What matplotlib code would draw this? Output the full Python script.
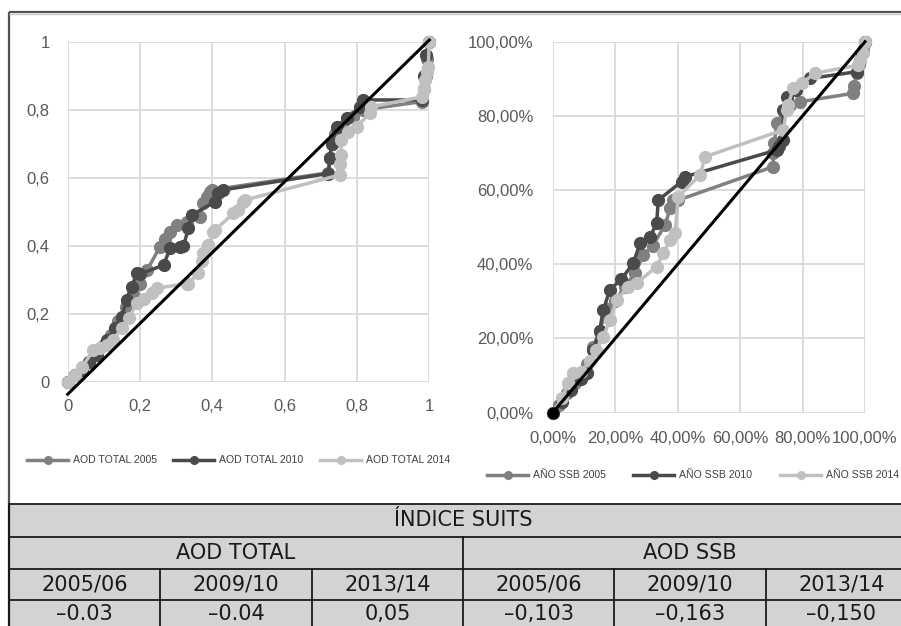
import matplotlib
matplotlib.use("Agg")
import matplotlib.pyplot as plt
from matplotlib.lines import Line2D
from matplotlib.patches import Rectangle

# ---------------- data ----------------
left_2005_x = [0, 0.02, 0.04, 0.06, 0.08, 0.10, 0.12, 0.14, 0.16, 0.18, 0.20, 0.22, 0.255, 0.27, 0.283, 0.301, 0.33, 0.366, 0.375, 0.385, 0.394, 0.40, 0.72, 0.725, 0.73, 0.74, 0.76, 0.79, 0.817, 0.979, 0.985, 0.99, 0.995, 1.0]
left_2005_y = [0, 0.02, 0.04, 0.06, 0.08, 0.11, 0.14, 0.18, 0.22, 0.26, 0.29, 0.33, 0.398, 0.42, 0.442, 0.462, 0.47, 0.486, 0.525, 0.545, 0.56, 0.565, 0.615, 0.66, 0.70, 0.73, 0.75, 0.78, 0.80, 0.824, 0.86, 0.90, 0.95, 1.0]

left_2010_x = [0, 0.02, 0.04, 0.06, 0.08, 0.108, 0.131, 0.149, 0.163, 0.177, 0.191, 0.20, 0.265, 0.283, 0.311, 0.32, 0.334, 0.343, 0.407, 0.417, 0.43, 0.721, 0.725, 0.73, 0.744, 0.772, 0.808, 0.817, 0.979, 0.985, 0.99, 1.0]
left_2010_y = [0, 0.02, 0.035, 0.06, 0.08, 0.124, 0.159, 0.193, 0.242, 0.281, 0.32, 0.318, 0.344, 0.393, 0.398, 0.40, 0.452, 0.491, 0.53, 0.555, 0.565, 0.613, 0.66, 0.70, 0.75, 0.775, 0.809, 0.829, 0.829, 0.90, 0.96, 1.0]

left_2014_x = [0, 0.02, 0.04, 0.071, 0.09, 0.11, 0.126, 0.15, 0.17, 0.191, 0.21, 0.232, 0.246, 0.329, 0.334, 0.361, 0.371, 0.375, 0.389, 0.403, 0.408, 0.458, 0.472, 0.486, 0.49, 0.753, 0.753, 0.755, 0.757, 0.776, 0.799, 0.836, 0.84, 0.979, 0.985, 0.988, 0.993, 0.997, 1.0]
left_2014_y = [0, 0.02, 0.045, 0.095, 0.10, 0.11, 0.124, 0.16, 0.19, 0.232, 0.245, 0.261, 0.276, 0.29, 0.29, 0.32, 0.355, 0.379, 0.403, 0.44, 0.447, 0.496, 0.506, 0.53, 0.535, 0.609, 0.64, 0.667, 0.711, 0.736, 0.75, 0.79, 0.809, 0.838, 0.86, 0.887, 0.91, 0.927, 1.0]

left_diag_x = [0, 1]
left_diag_y = [-0.035, 1.005]

right_2005_x = [0, 0.02, 0.045, 0.07, 0.09, 0.11, 0.13, 0.15, 0.173, 0.20, 0.23, 0.264, 0.29, 0.32, 0.36, 0.376, 0.386, 0.402, 0.706, 0.706, 0.71, 0.717, 0.744, 0.76, 0.792, 0.963, 0.965, 0.973, 0.985, 0.994, 1.0]
right_2005_y = [0, 0.02, 0.052, 0.08, 0.10, 0.13, 0.178, 0.22, 0.28, 0.30, 0.34, 0.376, 0.425, 0.45, 0.506, 0.551, 0.573, 0.573, 0.663, 0.70, 0.726, 0.78, 0.816, 0.83, 0.838, 0.861, 0.88, 0.915, 0.95, 0.978, 1.0]

right_2010_x = [0, 0.03, 0.06, 0.09, 0.109, 0.13, 0.15, 0.162, 0.183, 0.22, 0.258, 0.28, 0.312, 0.333, 0.338, 0.413, 0.424, 0.717, 0.725, 0.738, 0.738, 0.749, 0.78, 0.824, 0.973, 0.98, 0.99, 1.0]
right_2010_y = [0, 0.03, 0.06, 0.09, 0.106, 0.169, 0.22, 0.277, 0.331, 0.36, 0.403, 0.457, 0.474, 0.511, 0.573, 0.623, 0.636, 0.708, 0.72, 0.735, 0.816, 0.852, 0.87, 0.901, 0.919, 0.94, 0.97, 1.0]

right_2014_x = [0, 0.03, 0.05, 0.066, 0.09, 0.12, 0.14, 0.162, 0.183, 0.205, 0.242, 0.27, 0.333, 0.354, 0.376, 0.392, 0.402, 0.472, 0.488, 0.738, 0.749, 0.754, 0.77, 0.797, 0.84, 0.979, 0.985, 0.994, 1.0]
right_2014_y = [0, 0.04, 0.08, 0.106, 0.11, 0.14, 0.17, 0.205, 0.25, 0.304, 0.34, 0.35, 0.394, 0.43, 0.466, 0.484, 0.582, 0.641, 0.69, 0.762, 0.816, 0.829, 0.874, 0.888, 0.915, 0.937, 0.95, 0.969, 1.0]

right_diag_x = [0, 1]
right_diag_y = [0, 1]

left_ticks = [0, 0.2, 0.4, 0.6, 0.8, 1]
left_ticklabels = ["0", "0,2", "0,4", "0,6", "0,8", "1"]
right_ticks = [0, 0.2, 0.4, 0.6, 0.8, 1]
right_ticklabels = ["0,00%", "20,00%", "40,00%", "60,00%", "80,00%", "100,00%"]

left_series_names = ["AOD TOTAL 2005", "AOD TOTAL 2010", "AOD TOTAL 2014"]
right_series_names = ["AÑO SSB 2005", "AÑO SSB 2010", "AÑO SSB 2014"]

table_title = "ÍNDICE SUITS"
table_groups = ["AOD TOTAL", "AOD SSB"]
table_periods = ["2005/06", "2009/10", "2013/14", "2005/06", "2009/10", "2013/14"]
table_values = ["–0.03", "–0.04", "0,05", "–0,103", "–0,163", "–0,150"]

# ---------------- style ----------------
W, H = 901, 626
colors = ["#808080", "#4a4a4a", "#c0c0c0"]
tick_color = "#595959"
grid_color = "#d9d9d9"
tick_font = "Liberation Sans"

fig = plt.figure(figsize=(W / 100, H / 100), dpi=100)
fig.patch.set_facecolor("white")

def fx(px):
    return px / W

def fy(py):
    return 1 - py / H

def style_axes(ax, ticks, labels, xpad, ypad):
    ax.set_xlim(0, 1)
    ax.set_ylim(0, 1)
    ax.set_xticks(ticks)
    ax.set_yticks(ticks)
    ax.set_xticklabels(labels)
    ax.set_yticklabels(labels)
    ax.grid(True, color=grid_color, linewidth=1.3)
    ax.set_axisbelow(True)
    for s in ax.spines.values():
        s.set_visible(False)
    ax.tick_params(length=0, labelsize=12, labelcolor=tick_color)
    ax.tick_params(axis="x", pad=xpad)
    ax.tick_params(axis="y", pad=ypad)
    for t in ax.get_xticklabels() + ax.get_yticklabels():
        t.set_fontfamily(tick_font)

# Left chart
axL = fig.add_axes([fx(67.7), fy(382.3), (429.3 - 67.7) / W, (382.3 - 41.7) / H])
style_axes(axL, left_ticks, left_ticklabels, 12, 13)
for xs, ys, c in [(left_2005_x, left_2005_y, colors[0]),
                  (left_2010_x, left_2010_y, colors[1]),
                  (left_2014_x, left_2014_y, colors[2])]:
    axL.plot(xs, ys, color=c, lw=2.5, marker="o", ms=8.5, clip_on=False, zorder=3)
axL.plot(left_diag_x, left_diag_y, color="black", lw=2.2, clip_on=False, zorder=4)

# Right chart
axR = fig.add_axes([fx(552.7), fy(412.7), (865 - 552.7) / W, (412.7 - 41.7) / H])
style_axes(axR, right_ticks, right_ticklabels, 13, 14)
for xs, ys, c in [(right_2005_x, right_2005_y, colors[0]),
                  (right_2010_x, right_2010_y, colors[1]),
                  (right_2014_x, right_2014_y, colors[2])]:
    axR.plot(xs, ys, color=c, lw=2.5, marker="o", ms=8.5, clip_on=False, zorder=3)
axR.plot(right_diag_x, right_diag_y, color="black", lw=2.2, marker="o", ms=8,
         markevery=[0], clip_on=False, zorder=4)

# Overlay for borders, legends, table
ov = fig.add_axes([0, 0, 1, 1], zorder=-1)
ov.set_xlim(0, W)
ov.set_ylim(H, 0)
ov.axis("off")

# chart frame
ov.plot([9, 9], [12, 504], color="#505050", lw=1.6, solid_capstyle="butt")
ov.plot([9, W], [12, 12], color="#505050", lw=1.6, solid_capstyle="butt")
ov.plot([9, W], [14, 14], color="#c8c8c8", lw=1.0, solid_capstyle="butt")

# legends (drawn manually)
def draw_legend(x0s, y, names):
    for x0, name, c in zip(x0s, names, colors):
        ov.add_line(Line2D([x0, x0 + 41], [y, y], color=c, lw=2.5))
        ov.add_line(Line2D([x0 + 20.5], [y], color=c, marker="o", ms=5.5))
        ov.text(x0 + 46, y, name, fontsize=7.6, color="#404040", va="center",
                ha="left", family=tick_font)

draw_legend([27, 173, 320], 460, left_series_names)
draw_legend([487, 633, 780], 475, right_series_names)

# table
t_left, t_right = 9, 917
col_w = (t_right - t_left) / 6
rows = [504, 537, 569, 600, 632]
ov.add_patch(Rectangle((t_left, rows[0]), t_right - t_left, rows[-1] - rows[0],
                       facecolor="#d3d3d3", edgecolor="none"))
for r in rows[:-1]:
    ov.plot([t_left, t_right], [r, r], color="#1a1a1a", lw=1.3)
ov.plot([t_left, t_left], [rows[0], H], color="#1a1a1a", lw=1.6)
ov.plot([t_left + 3 * col_w] * 2, [rows[1], rows[2]], color="#1a1a1a", lw=1.3)
for i in range(1, 6):
    ov.plot([t_left + i * col_w] * 2, [rows[2], rows[-1]], color="#1a1a1a", lw=1.3)

tfont = dict(fontsize=15, color="#1a1a1a", ha="center", va="center", family="DejaVu Sans")
ov.text((t_left + t_right) / 2, (rows[0] + rows[1]) / 2, table_title, **tfont)
for g, name in enumerate(table_groups):
    ov.text(t_left + (g * 3 + 1.5) * col_w, (rows[1] + rows[2]) / 2, name, **tfont)
for i, (p, v) in enumerate(zip(table_periods, table_values)):
    cx = t_left + (i + 0.5) * col_w
    ov.text(cx, (rows[2] + rows[3]) / 2, p, **tfont)
    ov.text(cx, 614, v, **tfont)

fig.savefig("out.png", dpi=100)
